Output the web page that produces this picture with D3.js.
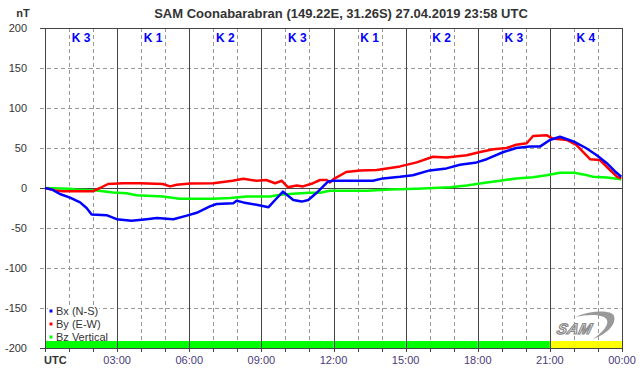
<!DOCTYPE html>
<html>
  <head>
	<meta charset="UTF-8">
    <title>SAM Coonabarabran</title>
	<script type="text/javascript" src="https://cdn.jsdelivr.net/npm/d3@7/dist/d3.min.js"></script>
	<style>
		body { margin:0; background:#fff; }
		text { font-family: "Liberation Sans", Arial, sans-serif; }
	</style>
  </head>
  <body>
    <svg width="642" height="376"></svg>
    <script>
    	// data
    	var kLabels = ["K 3","K 1","K 2","K 3","K 1","K 2","K 3","K 4"];
    	var kColors = ["#00ff00","#00ff00","#00ff00","#00ff00","#00ff00","#00ff00","#00ff00","#ffff00"];
    	var xTickLabels = ["UTC","03:00","06:00","09:00","12:00","15:00","18:00","21:00","00:00"];
    	var yTicks = [200,150,100,50,0,-50,-100,-150,-200];

    	var bx = [[0,0],[0.3,-2],[0.62,-7.5],[1.04,-12],[1.46,-18],[1.73,-25],[1.94,-33],[2.56,-34],[2.98,-39],[3.6,-41],
    		[4.23,-39],[4.65,-37.5],[5.34,-39],[5.9,-34.5],[6.31,-31],[6.86,-23],[7.14,-20],[7.83,-19],[7.97,-16],[8.25,-18],
    		[8.8,-21],[9.3,-24],[9.57,-15],[9.9,-4.6],[10.33,-15],[10.68,-17],[10.95,-15],[11.3,-6],[11.57,2],[11.77,8],
    		[12.0,9],[12.69,9],[13.64,9],[14.06,12],[14.77,14],[15.3,16],[16.0,22],[16.7,24.5],[17.26,29],[17.95,32],
    		[18.37,36],[19.07,45],[19.6,50],[20.17,52],[20.6,52],[21.0,60],[21.42,64],[22.0,58],[22.5,50],[22.95,41],
    		[23.37,31],[23.7,21],[23.97,14]];
    	var by = [[0,0],[0.42,-3],[0.75,-4],[1.46,-4],[2.0,-4],[2.29,0],[2.62,5],[3.25,6],[3.95,6],[4.9,5],
    		[5.2,2],[5.48,4],[6.03,5.5],[7.0,6],[7.8,9],[8.25,11.5],[8.8,9],[9.2,10],[9.57,6],[9.85,9],
    		[10.1,1],[10.47,3],[10.73,2],[11.15,6],[11.44,10],[11.72,10],[11.85,7],[12.0,11],[12.53,20],[13.1,22],
    		[13.8,22.5],[14.77,27],[15.46,32],[16.14,39],[16.7,38],[17.54,41],[18.1,45],[18.65,48.5],[19.2,50],[19.6,54],
    		[20.04,56],[20.3,65],[20.86,66],[21.1,62],[21.7,60],[22.1,54],[22.67,36],[23.08,35],[23.5,22.5],[23.8,14],[23.97,12]];
    	var bz = [[0,0],[1.04,-1],[1.25,-2],[2.15,-3],[2.83,-5.5],[3.4,-6.5],[3.8,-9],[4.9,-10.5],[5.6,-13.5],[7.0,-13.5],
    		[7.7,-12.5],[8.4,-10.5],[9.36,-10.5],[9.78,-8.5],[10.47,-7],[11.0,-6],[11.44,-6],[11.85,-3.5],[13.4,-3.5],[14.35,-2],
    		[15.46,-1],[16.85,1],[17.54,3],[18.37,7],[18.93,9],[19.6,12],[20.3,13.5],[20.86,16],[21.42,19],[22.0,19],
    		[22.4,17],[22.8,14],[23.37,13],[23.97,11]];
    	var series = [
    		{name:"Bx (N-S)", color:"#0000ff", values:bx},
    		{name:"By (E-W)", color:"#ff0000", values:by},
    		{name:"Bz Vertical", color:"#00ff00", values:bz}
    	];

    	var svg = d3.select("svg");
    	var plot = {left:45, right:622, top:28, bottom:348};

    	var x = d3.scaleLinear().domain([0,24]).range([plot.left,plot.right]);
    	var y = d3.scaleLinear().domain([-200,200]).range([plot.bottom,plot.top]);

    	// title
    	svg.append("text")
    		.attr("x",341).attr("y",18)
    		.attr("text-anchor","middle")
    		.attr("font-size",13).attr("font-weight","bold")
    		.attr("fill","#333")
    		.text("SAM Coonabarabran (149.22E, 31.26S) 27.04.2019 23:58 UTC");
    	svg.append("text")
    		.attr("x",23).attr("y",17)
    		.attr("text-anchor","middle")
    		.attr("font-size",11).attr("font-weight","bold")
    		.attr("fill","#333")
    		.text("nT");

    	// grid
    	var grid = svg.append("g");
    	grid.selectAll(".hdash")
    		.data(yTicks.filter(function(d){ return d!==0 && d!==200 && d!==-200; }))
    		.enter()
    		.append("line")
    		.attr("x1",plot.left-5).attr("x2",plot.right)
    		.attr("y1",function(d){ return y(d)+0.5; })
    		.attr("y2",function(d){ return y(d)+0.5; })
    		.attr("stroke","#999").attr("stroke-dasharray","4,3");
    	grid.selectAll(".vdash")
    		.data(d3.range(1,24).filter(function(h){ return h%3!==0; }))
    		.enter()
    		.append("line")
    		.attr("x1",function(d){ return Math.round(x(d))+0.5; })
    		.attr("x2",function(d){ return Math.round(x(d))+0.5; })
    		.attr("y1",plot.top).attr("y2",plot.bottom)
    		.attr("stroke","#999").attr("stroke-dasharray","4,3");
    	grid.selectAll(".vsolid")
    		.data(d3.range(3,24,3))
    		.enter()
    		.append("line")
    		.attr("x1",function(d){ return Math.round(x(d))+0.5; })
    		.attr("x2",function(d){ return Math.round(x(d))+0.5; })
    		.attr("y1",plot.top).attr("y2",plot.bottom)
    		.attr("stroke","#444");
    	grid.append("line")
    		.attr("x1",plot.left-5).attr("x2",plot.right)
    		.attr("y1",y(0)+0.5).attr("y2",y(0)+0.5)
    		.attr("stroke","#444");
    	grid.selectAll(".yt")
    		.data([200,-200])
    		.enter()
    		.append("line")
    		.attr("x1",plot.left-5).attr("x2",plot.left)
    		.attr("y1",function(d){ return y(d)+0.5; })
    		.attr("y2",function(d){ return y(d)+0.5; })
    		.attr("stroke","#444");

    	// legend, with a white backing that hides the grid behind the text
    	var lg = svg.append("g").selectAll("g")
    		.data(series)
    		.enter()
    		.append("g")
    		.attr("transform",function(d,i){ return "translate(51,"+(311+i*13)+")"; });
    	var bg = lg.append("rect")
    		.attr("fill","#fff");
    	lg.append("rect")
    		.attr("x",-1.5).attr("y",-1.5).attr("width",3).attr("height",3)
    		.attr("fill",function(d){ return d.color; });
    	var lt = lg.append("text")
    		.attr("x",5).attr("y",4)
    		.attr("font-size",11).attr("fill","#333")
    		.text(function(d){ return d.name; });
    	bg.each(function(d,i){
    		var w = lt.nodes()[i].getComputedTextLength();
    		d3.select(this).attr("x",-3).attr("y",-6).attr("width",w+9).attr("height",13);
    	});

    	// K index bar along the bottom
    	svg.append("g").selectAll("rect")
    		.data(kColors)
    		.enter()
    		.append("rect")
    		.attr("x",function(d,i){ return x(i*3); })
    		.attr("y",plot.bottom-7)
    		.attr("width",function(d,i){ return x(3)-x(0); })
    		.attr("height",7)
    		.attr("fill",function(d){ return d; });
    	svg.append("g").selectAll("line")
    		.data(d3.range(3,24,3))
    		.enter()
    		.append("line")
    		.attr("x1",function(d){ return Math.round(x(d))+0.5; })
    		.attr("x2",function(d){ return Math.round(x(d))+0.5; })
    		.attr("y1",plot.bottom-7).attr("y2",plot.bottom)
    		.attr("stroke","#444");

    	// ticks below the frame
    	svg.append("g").selectAll("line")
    		.data(d3.range(0,25))
    		.enter()
    		.append("line")
    		.attr("x1",function(d){ return Math.round(x(d))+0.5; })
    		.attr("x2",function(d){ return Math.round(x(d))+0.5; })
    		.attr("y1",plot.bottom).attr("y2",plot.bottom+4)
    		.attr("stroke","#444");

    	// frame
    	svg.append("rect")
    		.attr("x",plot.left+0.5).attr("y",plot.top+0.5)
    		.attr("width",plot.right-plot.left).attr("height",plot.bottom-plot.top)
    		.attr("fill","none").attr("stroke","#444");

    	// axis labels
    	svg.append("g").selectAll("text")
    		.data(yTicks)
    		.enter()
    		.append("text")
    		.attr("x",27).attr("y",function(d){ return y(d)+4; })
    		.attr("text-anchor","end")
    		.attr("font-size",11).attr("fill","#333")
    		.text(function(d){ return d; });
    	svg.append("g").selectAll("text")
    		.data(xTickLabels)
    		.enter()
    		.append("text")
    		.attr("x",function(d,i){ return i===0 ? plot.left-1 : x(i*3); })
    		.attr("y",364)
    		.attr("text-anchor",function(d,i){ return i===0 ? "start" : "middle"; })
    		.attr("font-size",11)
    		.attr("font-weight",function(d,i){ return i===0 ? "bold" : "normal"; })
    		.attr("fill",function(d,i){ return i===0 ? "#333" : "#4a3a7a"; })
    		.text(function(d){ return d; });

    	// K labels
    	svg.append("g").selectAll("text")
    		.data(kLabels)
    		.enter()
    		.append("text")
    		.attr("x",function(d,i){ return x(i*3+1.5); })
    		.attr("y",42)
    		.attr("text-anchor","middle")
    		.attr("font-size",12).attr("font-weight","bold")
    		.attr("fill","#0000ff")
    		.text(function(d){ return d; });

    	// SAM logo
    	var logo = svg.append("g").attr("transform","translate(557,313)");
    	logo.append("path")
    		.attr("d","M18,4 C35,-3 55,-3 57,3 C60,12 48,22 36,26 C46,19 52,12 50,7 C47,1 32,1 18,4 Z")
    		.attr("fill","#999");
    	logo.append("text")
    		.attr("x",22).attr("y",21)
    		.attr("text-anchor","middle")
    		.attr("font-size",15).attr("font-style","italic").attr("font-weight","bold")
    		.attr("transform","skewX(-15)")
    		.attr("fill","#fff").attr("stroke","#8a8a8a").attr("stroke-width",1.2)
    		.attr("letter-spacing",0.5)
    		.text("SAM");

    	// lines
    	var line = d3.line()
    		.x(function(d){ return x(d[0]); })
    		.y(function(d){ return y(d[1]); });
    	svg.append("g").selectAll("path")
    		.data([series[2],series[1],series[0]])
    		.enter()
    		.append("path")
    		.attr("d",function(d){ return line(d.values); })
    		.attr("fill","none")
    		.attr("stroke",function(d){ return d.color; })
    		.attr("stroke-width",2.5)
    		.attr("stroke-linejoin","round");
    </script>
  </body>
</html>
